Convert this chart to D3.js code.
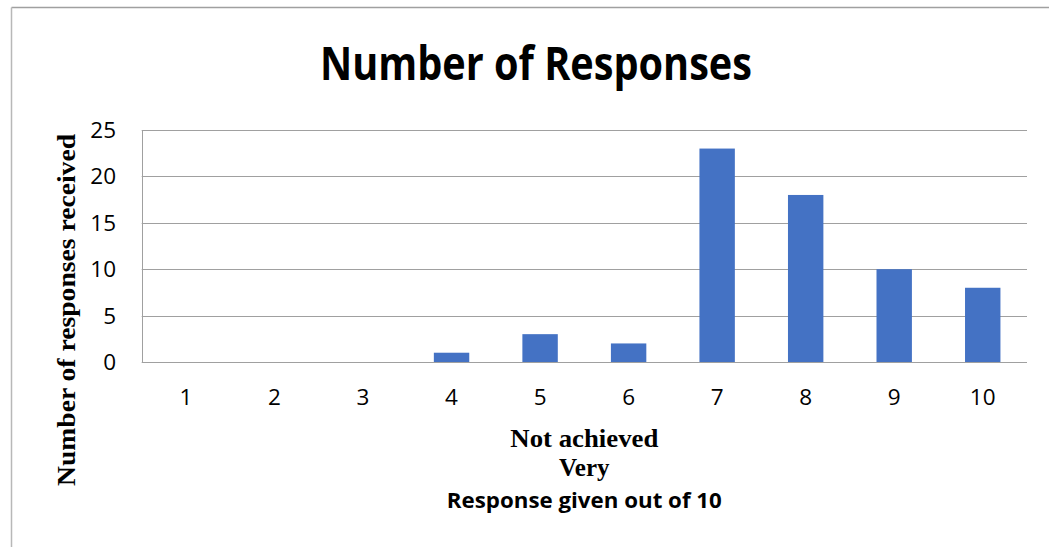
<!DOCTYPE html>
<html>
<head>
<meta charset="utf-8">
<script src="https://cdn.jsdelivr.net/npm/d3@7"></script>
<style>
html,body{margin:0;padding:0;background:#fff;}
svg{display:block;}
</style>
</head>
<body>
<svg id="chart" width="1049" height="547"></svg>
<script>
const categories = ["1","2","3","4","5","6","7","8","9","10"];
const values = [0,0,0,1,3,2,23,18,10,8];
const yTicks = [0,5,10,15,20,25];
const titleText = "Number of Responses";
const yTitle = "Number of responses received";
const xTitleLines = ["Not achieved","Very"];
const xTitleMain = "Response given out of 10";

const svg = d3.select("#chart");
const W = 1049, H = 547;
const m = {left:141.7, right:1027, top:130, bottom:362};

// outer border (top and left only visible)
svg.append("line").attr("x1",11.5).attr("x2",W).attr("y1",7.5).attr("y2",7.5)
  .attr("stroke","#a0a0a0").attr("stroke-width",1.5);
svg.append("line").attr("x1",11.5).attr("x2",11.5).attr("y1",7.5).attr("y2",H)
  .attr("stroke","#b8b8b8").attr("stroke-width",1.5);

const x = d3.scaleBand().domain(categories).range([m.left,m.right]).paddingInner(0.6).paddingOuter(0.3);
const y = d3.scaleLinear().domain([0,25]).range([m.bottom,m.top]);

// gridlines
svg.append("g").selectAll("line").data(yTicks).join("line")
  .attr("x1",m.left).attr("x2",m.right)
  .attr("y1",d=>Math.round(y(d))+0.5).attr("y2",d=>Math.round(y(d))+0.5)
  .attr("stroke","#a0a0a0").attr("stroke-width",1);
// left axis line
svg.append("line").attr("x1",Math.round(m.left)+0.5).attr("x2",Math.round(m.left)+0.5)
  .attr("y1",y(25)).attr("y2",y(0)).attr("stroke","#a0a0a0");

// bars
svg.append("g").selectAll("rect").data(values).join("rect")
  .attr("x",(d,i)=>x(categories[i]))
  .attr("width",x.bandwidth())
  .attr("y",d=>y(d))
  .attr("height",d=>y(0)-y(d))
  .attr("fill","#4472C4");

// y tick labels
svg.append("g").selectAll("text").data(yTicks).join("text")
  .attr("x",116).attr("y",d=>y(d)+8)
  .attr("text-anchor","end")
  .attr("font-family","'Open Sans', sans-serif").attr("font-size",22.5)
  .attr("fill","#000").text(d=>d);

// x tick labels
svg.append("g").selectAll("text").data(categories).join("text")
  .attr("x",d=>x(d)+x.bandwidth()/2).attr("y",405)
  .attr("text-anchor","middle")
  .attr("font-family","'Open Sans', sans-serif").attr("font-size",22.5)
  .attr("fill","#000").text(d=>d);

// title
svg.append("text").attr("x",536).attr("y",80).attr("text-anchor","middle")
  .attr("font-family","'Open Sans', sans-serif").attr("font-weight","bold").attr("font-size",46)
  .attr("textLength",432).attr("lengthAdjust","spacingAndGlyphs")
  .attr("fill","#000").text(titleText);

// y axis title
svg.append("text").attr("transform","translate(75,310) rotate(-90)")
  .attr("text-anchor","middle")
  .attr("font-family","'Liberation Serif', 'Times New Roman', serif").attr("font-weight","bold").attr("font-size",25)
  .attr("textLength",352).attr("lengthAdjust","spacingAndGlyphs")
  .attr("fill","#000").text(yTitle);

// x axis titles
const cx = (m.left+m.right)/2;
svg.append("text").attr("x",cx).attr("y",447).attr("text-anchor","middle")
  .attr("font-family","'Liberation Serif', serif").attr("font-weight","bold").attr("font-size",25)
  .attr("textLength",148).attr("lengthAdjust","spacingAndGlyphs")
  .attr("fill","#000").text(xTitleLines[0]);
svg.append("text").attr("x",cx).attr("y",476).attr("text-anchor","middle")
  .attr("font-family","'Liberation Serif', serif").attr("font-weight","bold").attr("font-size",25)
  .attr("fill","#000").text(xTitleLines[1]);
svg.append("text").attr("x",cx).attr("y",508).attr("text-anchor","middle")
  .attr("font-family","'Open Sans', sans-serif").attr("font-weight","bold").attr("font-size",21)
  .attr("textLength",275).attr("lengthAdjust","spacingAndGlyphs")
  .attr("fill","#000").text(xTitleMain);
</script>
</body>
</html>
